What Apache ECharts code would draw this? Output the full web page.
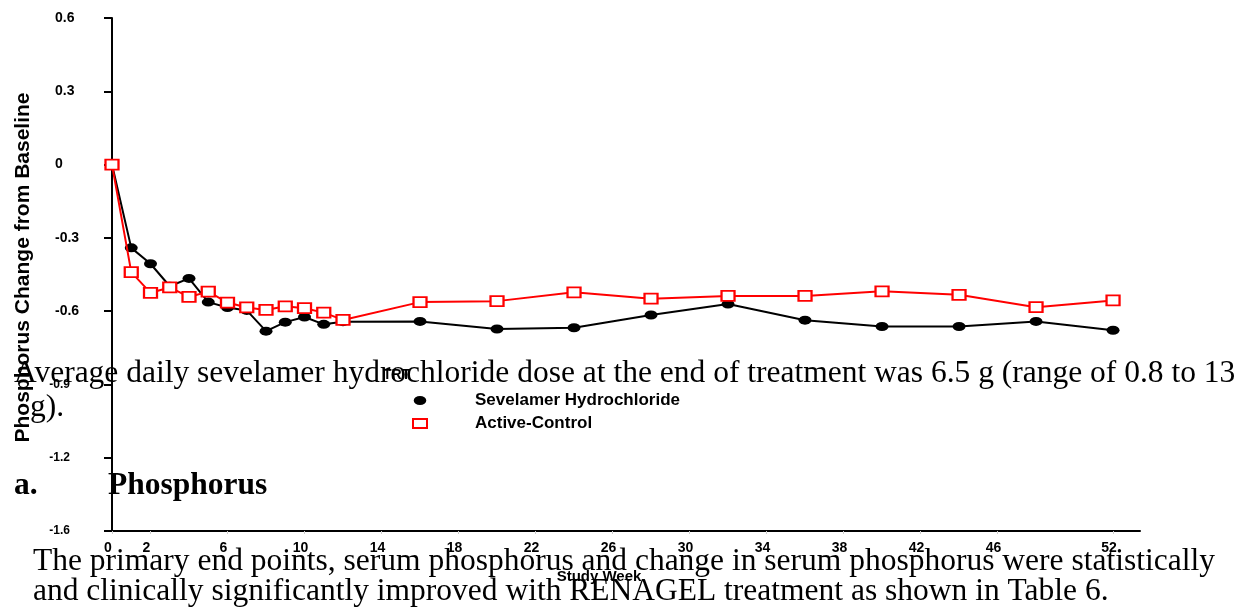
<!DOCTYPE html>
<html>
<head>
<meta charset="utf-8">
<script src="https://cdn.jsdelivr.net/npm/echarts@6/dist/echarts.min.js"></script>
<style>
  html, body { margin: 0; padding: 0; background: #fff; }
  #phos-chart { width: 1256px; height: 608px; }
</style>
</head>
<body>
<div id="phos-chart"></div>
<script>
// study weeks where the means were taken
const weeks = [0, 1, 2, 3, 4, 5, 6, 7, 8, 9, 10, 11, 12, 16, 20, 24, 28, 32, 36, 40, 44, 48, 52]
// mean change from baseline (mg/dL)
const sevelamer = [0, -0.341, -0.406, -0.498, -0.466, -0.563, -0.585, -0.597, -0.682, -0.645, -0.624, -0.654, -0.643,
  -0.642, -0.673, -0.668, -0.616, -0.571, -0.637, -0.663, -0.663, -0.642, -0.678]
const activeControl = [0, -0.44, -0.525, -0.503, -0.542, -0.52, -0.565, -0.585, -0.595, -0.58, -0.588, -0.606, -0.636,
  -0.563, -0.559, -0.523, -0.549, -0.538, -0.538, -0.519, -0.533, -0.584, -0.556]
// tick labels
const xTicks = [0, 2, 6, 10, 14, 18, 22, 26, 30, 34, 38, 42, 46, 52]
const yTicks = [-1.5, -1.2, -0.9, -0.6, -0.3, 0, 0.3, 0.6]
const yTickText = ['-1.6', '-1.2', '-0.9', '-0.6', '-0.3', '0', '0.3', '0.6']
const seriesNames = ['Sevelamer Hydrochloride', 'Active-Control']
// page text the chart sits on
const docLines = [
  'Average daily sevelamer hydrochloride dose at the end of treatment was 6.5 g (range of 0.8 to 13',
  'g).',
  'The primary end points, serum phosphorus and change in serum phosphorus were statistically',
  'and clinically significantly improved with RENAGEL treatment as shown in Table 6.'
]
const headingNum = 'a.'
const headingText = 'Phosphorus'

const ellipse = 'path://M0,5a7,5 0 1,0 14,0a7,5 0 1,0 -14,0'
const toPairs = (ys) => weeks.map((w, i) => [w, ys[i]])
const docFont = { fontFamily: 'Liberation Serif', fontSize: 31.5, fill: '#000' }

const chart = echarts.init(document.getElementById('phos-chart'))
chart.setOption({
  animation: false,
  backgroundColor: '#fff',
  grid: { left: 112, right: 116, top: 18, bottom: 77 },
  legend: {
    orient: 'vertical',
    left: 407,
    top: 387,
    itemWidth: 14,
    itemHeight: 9,
    itemGap: 6,
    textStyle: { fontFamily: 'Liberation Sans', fontWeight: 'bold', fontSize: 17, lineHeight: 16, color: '#000', padding: [0, 0, 0, 43] },
    data: [
      { name: seriesNames[0], icon: ellipse, itemStyle: { color: '#000' } },
      { name: seriesNames[1], icon: 'rect', itemStyle: { color: '#fff', borderColor: '#ff0000', borderWidth: 2 } }
    ]
  },
  xAxis: {
    type: 'value',
    min: 0,
    max: 53.4,
    name: 'Study Week',
    nameLocation: 'middle',
    nameGap: 38,
    nameTextStyle: { fontFamily: 'Liberation Sans', fontWeight: 'bold', fontSize: 15, color: '#000', padding: [0, 54, 0, 0] },
    splitLine: { show: false },
    axisLine: { onZero: false, lineStyle: { color: '#000', width: 2 } },
    axisTick: { show: true, customValues: xTicks, length: 3, lineStyle: { color: '#ccc' } },
    axisLabel: {
      customValues: xTicks,
      margin: 10,
      fontFamily: 'Liberation Sans', fontWeight: 'bold', fontSize: 14, color: '#000',
      padding: [0, 8, 0, 0]
    }
  },
  yAxis: {
    type: 'value',
    min: -1.5,
    max: 0.6,
    interval: 0.3,
    name: 'Phosphorus Change from Baseline',
    nameLocation: 'middle',
    nameGap: 78,
    nameTextStyle: { fontFamily: 'Liberation Sans', fontWeight: 'bold', fontSize: 21, color: '#000', padding: [0, 0, 0, 14] },
    splitLine: { show: false },
    axisLine: { lineStyle: { color: '#000', width: 2 } },
    axisTick: { length: 8, lineStyle: { color: '#000', width: 2 } },
    axisLabel: {
      margin: 30,
      align: 'right',
      color: '#000',
      formatter: (v) => {
        let idx = yTicks.findIndex(t => Math.abs(t - v) < 1e-6)
        let txt = idx >= 0 ? yTickText[idx] : ''
        return v < -0.75 ? '{low|' + txt + '}' : '{up|' + txt + '}'
      },
      rich: {
        up: { fontFamily: 'Liberation Sans', fontWeight: 'bold', fontSize: 14, width: 27, align: 'left' },
        low: { fontFamily: 'Liberation Sans', fontWeight: 'bold', fontSize: 12, padding: [0, 12, 0, 0] }
      }
    }
  },
  series: [
    {
      name: seriesNames[0],
      type: 'line',
      data: toPairs(sevelamer),
      symbol: ellipse,
      symbolSize: [13, 9],
      lineStyle: { color: '#000', width: 2 },
      itemStyle: { color: '#000' },
      z: 2
    },
    {
      name: seriesNames[1],
      type: 'line',
      data: toPairs(activeControl),
      symbol: 'rect',
      symbolSize: [13, 10],
      lineStyle: { color: '#ff0000', width: 2 },
      itemStyle: { color: '#fff', borderColor: '#ff0000', borderWidth: 2 },
      z: 3
    }
  ],
  graphic: [
    { type: 'text', left: 383, top: 368, z: 50, style: { text: 'TRT', fontFamily: 'Liberation Sans', fontWeight: 'bold', fontSize: 14, fill: '#000' } },
    { type: 'text', left: 14, top: 358, z: 60, style: Object.assign({ text: docLines[0] }, docFont) },
    { type: 'text', left: 30, top: 392, z: 60, style: Object.assign({ text: docLines[1] }, docFont) },
    { type: 'text', left: 14, top: 470, z: 60, style: Object.assign({ text: headingNum, fontWeight: 'bold' }, docFont) },
    { type: 'text', left: 108, top: 470, z: 60, style: Object.assign({ text: headingText, fontWeight: 'bold' }, docFont) },
    { type: 'text', left: 33, top: 546, z: 60, style: Object.assign({ text: docLines[2] }, docFont) },
    { type: 'text', left: 33, top: 576, z: 60, style: Object.assign({ text: docLines[3] }, docFont) }
  ]
})
</script>
</body>
</html>
